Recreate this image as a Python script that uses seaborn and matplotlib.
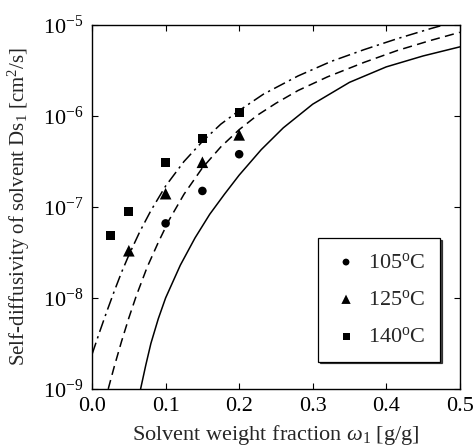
import numpy as np
import pandas as pd
import matplotlib
matplotlib.use("Agg")
import matplotlib.pyplot as plt
import seaborn as sns

# Kurva model (log10 Ds1)
x_105 = [0.066, 0.073, 0.08, 0.09, 0.10, 0.12, 0.14, 0.16, 0.18, 0.20, 0.23, 0.26, 0.30, 0.35, 0.40, 0.45, 0.50]
logd_105 = [-9.0, -8.74, -8.5, -8.23, -8.0, -7.64, -7.34, -7.08, -6.86, -6.65, -6.37, -6.13, -5.87, -5.63,
            -5.46, -5.34, -5.24]

x_125 = [0.022, 0.03, 0.04, 0.05, 0.06, 0.075, 0.09, 0.105, 0.125, 0.15, 0.175, 0.20, 0.225, 0.25, 0.28,
         0.32, 0.37, 0.415, 0.46, 0.50]
logd_125 = [-9.0, -8.76, -8.48, -8.22, -7.98, -7.66, -7.39, -7.14, -6.86, -6.57, -6.34, -6.15, -5.99, -5.86,
            -5.72, -5.57, -5.41, -5.28, -5.17, -5.08]

x_140 = [0.0, 0.01, 0.02, 0.03, 0.04, 0.05, 0.065, 0.08, 0.10, 0.125, 0.15, 0.175, 0.20, 0.233, 0.28,
         0.325, 0.37, 0.415, 0.46, 0.50]
logd_140 = [-8.62, -8.38, -8.15, -7.93, -7.72, -7.53, -7.27, -7.04, -6.77, -6.50, -6.28, -6.09, -5.94,
            -5.76, -5.56, -5.40, -5.27, -5.15, -5.04, -4.95]

# Data eksperimen
exp_x_105 = [0.10, 0.15, 0.20]
exp_d_105 = [6.6e-8, 1.5e-7, 3.8e-7]
exp_x_125 = [0.05, 0.10, 0.15, 0.20]
exp_d_125 = [3.3e-8, 1.4e-7, 3.1e-7, 6.2e-7]
exp_x_140 = [0.025, 0.05, 0.10, 0.15, 0.20]
exp_d_140 = [4.9e-8, 8.9e-8, 3.1e-7, 5.7e-7, 1.1e-6]

labels = ["105$^{\\rm o}$C", "125$^{\\rm o}$C", "140$^{\\rm o}$C"]

sns.set_style("ticks")
plt.rcParams["font.family"] = ["Liberation Serif", "DejaVu Serif"]
plt.rcParams["mathtext.fontset"] = "custom"
plt.rcParams["mathtext.rm"] = "Liberation Serif"
plt.rcParams["mathtext.it"] = "Liberation Serif:italic"
plt.rcParams["axes.unicode_minus"] = False

fig = plt.figure(figsize=(4.77, 4.47), dpi=100)
ax = fig.add_axes([0.193, 0.130, 0.771, 0.814])

curves = [
    (x_105, logd_105, None),
    (x_125, logd_125, (6, 3.5)),
    (x_140, logd_140, (8, 3, 1.5, 3)),
]
for xs, ld, dash in curves:
    df = pd.DataFrame({"x": xs, "D": 10 ** np.array(ld)})
    sns.lineplot(data=df, x="x", y="D", ax=ax, color="black", lw=1.1, estimator=None)
    if dash is not None:
        ax.lines[-1].set_dashes(dash)

sns.scatterplot(x=exp_x_105, y=exp_d_105, ax=ax, marker="o", s=38, color="black",
                edgecolor="none", label=labels[0])
sns.scatterplot(x=exp_x_125, y=exp_d_125, ax=ax, marker="^", s=70, color="black",
                edgecolor="none", label=labels[1])
sns.scatterplot(x=exp_x_140, y=exp_d_140, ax=ax, marker="s", s=40, color="black",
                edgecolor="none", label=labels[2])

ax.set_yscale("log")
ax.set_xlim(0, 0.5)
ax.set_ylim(1e-9, 1e-5)
ax.set_xticks([0.0, 0.1, 0.2, 0.3, 0.4, 0.5])
ax.set_xticklabels(["0.0", "0.1", "0.2", "0.3", "0.4", "0.5"])
ax.set_yticks([1e-9, 1e-8, 1e-7, 1e-6, 1e-5])
ax.minorticks_off()
ax.tick_params(direction="in", length=4, width=0.8, top=True, right=True,
               labelsize=16, colors="black")
ax.tick_params(axis="x", pad=6)
ax.tick_params(axis="y", pad=6)
for s in ax.spines.values():
    s.set_linewidth(1.0)
    s.set_color("black")

ax.set_xlabel("Solvent weight fraction $\\omega_1$ [g/g]", fontsize=16, labelpad=5)
ax.set_ylabel("Self-diffusivity of solvent Ds$_1$ [cm$^2$/s]", fontsize=15, labelpad=8)

leg = ax.legend(loc="upper left", bbox_to_anchor=(0.615, 0.415), borderaxespad=0, fontsize=16,
                frameon=True, fancybox=False, edgecolor="black", framealpha=1, borderpad=0.65,
                labelspacing=0.75, handletextpad=0.4, handlelength=1.2, markerscale=0.8,
                shadow={"color": "black", "alpha": 0.7, "ox": 1.2, "oy": -1.2})
leg.get_frame().set_linewidth(0.9)

fig.savefig("out.png", dpi=100)
